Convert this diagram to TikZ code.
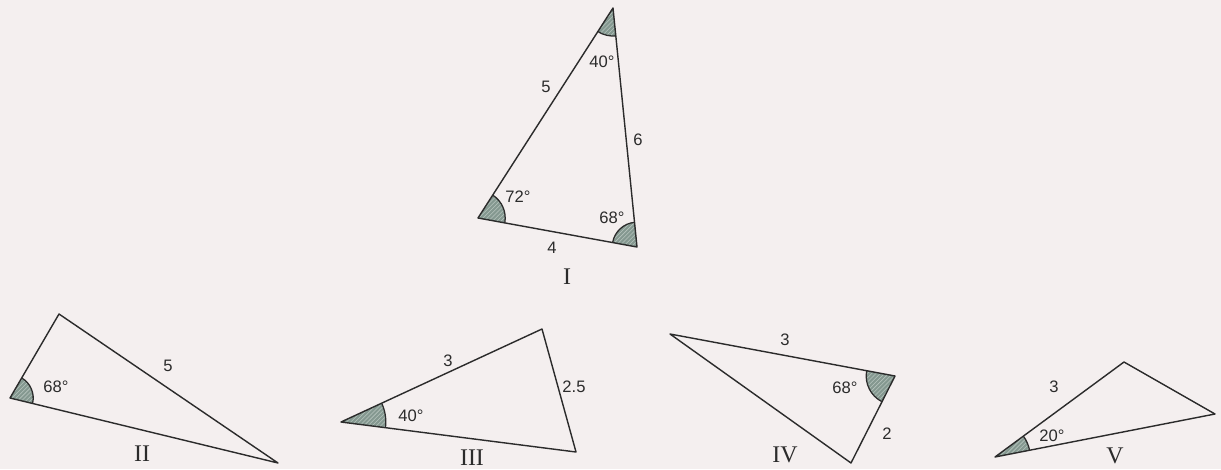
\documentclass[tikz,border=0pt]{standalone}
\usepackage{fontspec}
\setmainfont{Liberation Serif}
\setsansfont{Liberation Sans}
\usetikzlibrary{angles,patterns}

\definecolor{tribg}{HTML}{F4EFEF}
\definecolor{triedge}{HTML}{2B2B2B}
\definecolor{trifill}{HTML}{849890}
\definecolor{trihatch}{HTML}{B7C4BE}

% shaded angle: #1--#2--#3 counterclockwise, radius #4
\newcommand{\angmark}[4]{%
  \pic[fill=trifill, angle radius=#4] {angle=#1--#2--#3};
  \pic[
    pattern=north east lines,
    pattern color=trihatch,
    draw=triedge,
    line width=0.9pt,
    angle radius=#4
  ] {angle=#1--#2--#3};
}

\begin{document}
\begin{tikzpicture}[
  x=0.025cm, y=0.025cm,
  side/.style={draw=triedge, line width=1pt, line join=round},
  lbl/.style={font=\sffamily\fontsize{11.8}{13}\selectfont, text=triedge, inner sep=0pt},
  numl/.style={font=\rmfamily\fontsize{17}{19}\selectfont, text=triedge, inner sep=0pt}
]

  \fill[tribg] (0,0) rectangle (1221,469);
  \useasboundingbox (0,0) rectangle (1221,469);

  % --------------------------------------------------------------------
  % Triangle I
  % --------------------------------------------------------------------

  \coordinate (a1) at (613,461);
  \coordinate (b1) at (478,251);
  \coordinate (c1) at (637,222);

  \angmark{b1}{a1}{c1}{0.7cm}
  \angmark{c1}{b1}{a1}{0.68cm}
  \angmark{a1}{c1}{b1}{0.62cm}
  \draw[side] (a1) -- (b1) -- (c1) -- cycle;

  \node[lbl] (i-ab) at (546,382) {5};
  \node[lbl] (i-bc) at (552,221) {4};
  \node[lbl] (i-ca) at (638,329) {6};
  \node[lbl] (i-a) at (602,407) {40°};
  \node[lbl] (i-b) at (518,272) {72°};
  \node[lbl] (i-c) at (612,251) {68°};
  \node[numl] (i-name) at (567,192) {I};

  % --------------------------------------------------------------------
  % Triangle II
  % --------------------------------------------------------------------

  \coordinate (t2) at (59,155);
  \coordinate (l2) at (10,71);
  \coordinate (r2) at (278,6);

  \angmark{r2}{l2}{t2}{0.58cm}
  \draw[side] (t2) -- (l2) -- (r2) -- cycle;

  \node[lbl] (ii-tr) at (168,103) {5};
  \node[lbl] (ii-l) at (56,82) {68°};
  \node[numl] (ii-name) at (142,15) {II};

  % --------------------------------------------------------------------
  % Triangle III
  % --------------------------------------------------------------------

  \coordinate (l3) at (341,47);
  \coordinate (t3) at (542,140);
  \coordinate (r3) at (576,17);

  \angmark{r3}{l3}{t3}{1.12cm}
  \draw[side] (l3) -- (t3) -- (r3) -- cycle;

  \node[lbl] (iii-lt) at (448,108) {3};
  \node[lbl] (iii-tr) at (574,82) {2.5};
  \node[lbl] (iii-l) at (411,53) {40°};
  \node[numl] (iii-name) at (472,11) {III};

  % --------------------------------------------------------------------
  % Triangle IV
  % --------------------------------------------------------------------

  \coordinate (l4) at (670,135);
  \coordinate (r4) at (895,93);
  \coordinate (b4) at (851,6);

  \angmark{l4}{r4}{b4}{0.72cm}
  \draw[side] (l4) -- (r4) -- (b4) -- cycle;

  \node[lbl] (iv-lr) at (785,129) {3};
  \node[lbl] (iv-rb) at (887,35) {2};
  \node[lbl] (iv-r) at (845,81) {68°};
  \node[numl] (iv-name) at (785,14) {IV};

  % --------------------------------------------------------------------
  % Triangle V
  % --------------------------------------------------------------------

  \coordinate (l5) at (995,12);
  \coordinate (t5) at (1124,107);
  \coordinate (r5) at (1215,55);

  \angmark{r5}{l5}{t5}{0.88cm}
  \draw[side] (l5) -- (t5) -- (r5) -- cycle;

  \node[lbl] (v-lt) at (1054,82) {3};
  \node[lbl] (v-l) at (1052,33) {20°};
  \node[numl] (v-name) at (1115,13) {V};

\end{tikzpicture}
\end{document}
